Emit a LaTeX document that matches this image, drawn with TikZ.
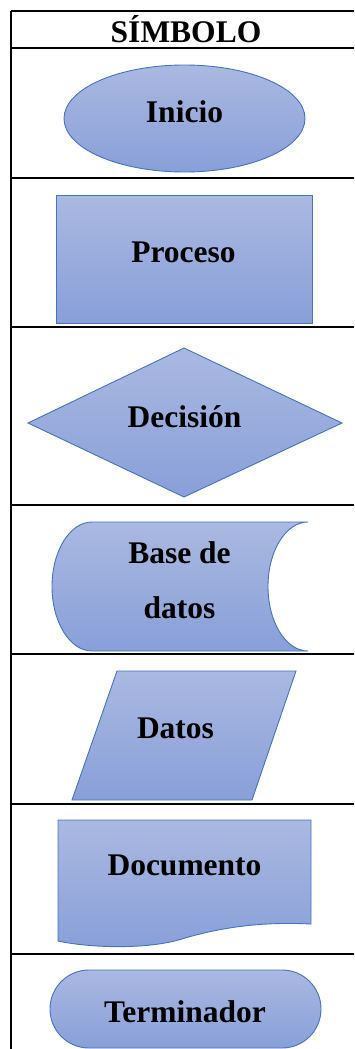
\documentclass[tikz,border=0pt]{standalone}
\usepackage{fontspec}
\setmainfont{Liberation Serif}
\definecolor{symrand}{HTML}{4472C4}
\definecolor{symoben}{HTML}{AAB9E1}
\definecolor{symunten}{HTML}{889FD8}
\tikzset{
  symbol/.style={draw=symrand, line width=0.9pt, top color=symoben, bottom color=symunten},
  beschriftung/.style={font=\fontsize{31.5}{55}\selectfont\bfseries, inner sep=0pt, anchor=base},
  tabelle/.style={line width=1.6pt}
}
\begin{document}
\begin{tikzpicture}[x=1pt,y=-1pt]
	\useasboundingbox (0,0) rectangle (354,1049);
	% Tabelle
	\draw[tabelle] (11,11) -- (11,1049);
	\foreach \y in {11,48,178,327,505,654,804,954}
		\draw[tabelle] (11,\y) -- (354,\y);
	% Kopf
	\node[beschriftung] (titel) at (186,43) {SÍMBOLO};
	% Symbole
	\draw[symbol] (184.5,118.5) ellipse [x radius=120.5, y radius=53.5];
	\node[beschriftung] (inicio) at (184.5,122) {Inicio};
	\draw[symbol] (56,195) rectangle (312,323);
	\node[beschriftung] (proceso) at (183.5,262) {Proceso};
	\draw[symbol] (184,348) -- (342,423) -- (184,497) -- (28,423) -- cycle;
	\node[beschriftung] (decision) at (184.5,427) {Decisión};
	\draw[symbol] (92,522) -- (308,522)
		.. controls (285.9,522) and (268,550.9) .. (268,586.5)
		.. controls (268,622.1) and (285.9,651) .. (308,651)
		-- (92,651)
		.. controls (69.9,651) and (52,622.1) .. (52,586.5)
		.. controls (52,550.9) and (69.9,522) .. (92,522) -- cycle;
	\node[beschriftung, anchor=center, align=center] (basedatos) at (179.5,580) {Base de\\datos};
	\draw[symbol] (117,671) -- (296,671) -- (252,800) -- (72,800) -- cycle;
	\node[beschriftung] (datos) at (175.5,738) {Datos};
	\draw[symbol] (58,820) -- (311,820) -- (311,924)
		.. controls (270,922) and (230,925) .. (185,938)
		.. controls (150,950) and (90,948) .. (58,941) -- cycle;
	\node[beschriftung] (documento) at (184.5,875) {Documento};
	\draw[symbol, rounded corners=38.9pt] (50,970) rectangle (321,1048);
	\node[beschriftung] (terminador) at (185,1022) {Terminador};
\end{tikzpicture}
\end{document}
